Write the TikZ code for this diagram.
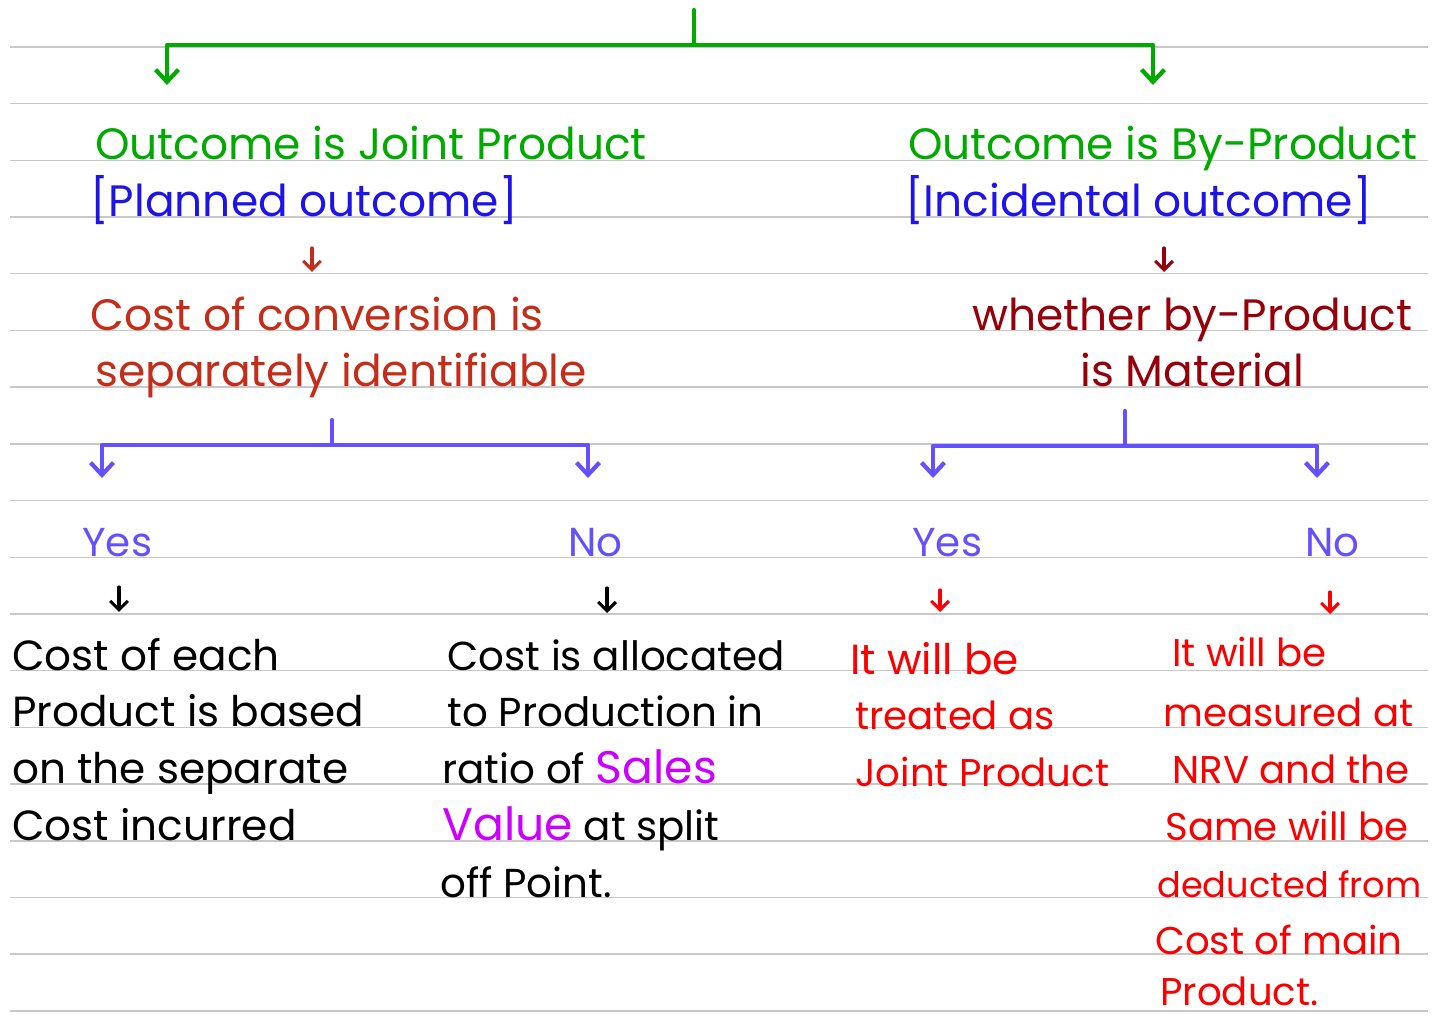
\documentclass[tikz,border=0pt]{standalone}
\usepackage{fontspec}
\setmainfont{Poppins}
\usepackage{xcolor}
\usetikzlibrary{arrows.meta}
\definecolor{rule-color}{RGB}{200,200,200}
\definecolor{head-green}{RGB}{0,170,0}
\definecolor{note-blue}{RGB}{30,20,235}
\definecolor{conv-brown}{RGB}{195,45,25}
\definecolor{mat-maroon}{RGB}{150,0,10}
\definecolor{choice-blue}{RGB}{100,80,255}
\definecolor{sales-purple}{RGB}{205,0,255}
\definecolor{treat-red}{RGB}{250,0,0}
\tikzset{
    rule/.style = {draw=rule-color, line width=0.8pt},
    txt/.style = {anchor=base west, inner sep=0pt, font=\fontsize{22}{26}\selectfont},
    headtxt/.style = {txt, font=\fontsize{25}{30}\selectfont},
    sidetxt/.style = {txt, font=\fontsize{24}{28}\selectfont},
    midtxt/.style = {txt, font=\fontsize{23}{27}\selectfont},
    wire/.style = {line width=2.4pt, line cap=round, line join=round},
    bigtip/.style = {-{Straight Barb[length=7pt,width=13pt,line width=2.4pt]}},
    smalltip/.style = {line width=1.8pt, line cap=round, -{Straight Barb[length=5pt,width=10pt,line width=1.8pt]}},
}

\begin{document}
\begin{tikzpicture}[x=0.02cm,y=-0.02cm]
\useasboundingbox[fill=white] (0,0) rectangle (1438,1016);
\foreach \k in {0,...,17}
    \draw[rule] (10,{47+56.7*\k}) -- (1428,{47+56.7*\k});

% outcomes
\node[headtxt,head-green] (jp)     at (95,160)  {Outcome is Joint Product};
\node[headtxt,note-blue]  (jpnote) at (90,217)  {[Planned outcome]};
\node[headtxt,head-green] (bp)     at (908,160) {Outcome is By-Product};
\node[headtxt,note-blue]  (bpnote) at (905,217) {[Incidental outcome]};

\coordinate (top)  at (694,10);
\coordinate (topj) at (694,45);
\coordinate (jpin) at (167,85);
\coordinate (bpin) at (1153,85);
\draw[wire,head-green] (top) -- (topj);
\draw[wire,head-green,bigtip] (topj) -| (jpin);
\draw[wire,head-green,bigtip] (topj) -| (bpin);

% questions
\node[headtxt,conv-brown] (conv1) at (90,331)   {Cost of conversion is};
\node[headtxt,conv-brown] (conv2) at (95,387)   {separately identifiable};
\node[headtxt,mat-maroon] (mat1)  at (972,331)  {whether by-Product};
\node[headtxt,mat-maroon] (mat2)  at (1080,387) {is Material};

\coordinate (jpa) at (312,248);
\coordinate (jpb) at (312,272);
\draw[smalltip,conv-brown] (jpa) -- (jpb);
\coordinate (bpa) at (1164,248);
\coordinate (bpb) at (1164,272);
\draw[smalltip,mat-maroon] (bpa) -- (bpb);

% yes / no
\node[midtxt,choice-blue] (lyes) at (82,557)   {Yes};
\node[midtxt,choice-blue] (lno)  at (568,557)  {No};
\node[midtxt,choice-blue] (ryes) at (912,557)  {Yes};
\node[midtxt,choice-blue] (rno)  at (1305,557) {No};

\coordinate (lstem)  at (332,420);
\coordinate (ljoin)  at (332,445);
\coordinate (lyesin) at (102,478);
\coordinate (lnoin)  at (588,478);
\draw[wire,choice-blue] (lstem) -- (ljoin);
\draw[wire,choice-blue,bigtip] (ljoin) -| (lyesin);
\draw[wire,choice-blue,bigtip] (ljoin) -| (lnoin);

\coordinate (rstem)  at (1125,411);
\coordinate (rjoin)  at (1125,446);
\coordinate (ryesin) at (933,478);
\coordinate (rnoin)  at (1317,478);
\draw[wire,choice-blue] (rstem) -- (rjoin);
\draw[wire,choice-blue,bigtip] (rjoin) -| (ryesin);
\draw[wire,choice-blue,bigtip] (rjoin) -| (rnoin);

% small arrows to results
\coordinate (la) at (119,587);  \coordinate (lb) at (119,612);
\coordinate (ma) at (607,588);  \coordinate (mb) at (607,613);
\coordinate (ra) at (940,590);  \coordinate (rb) at (940,612);
\coordinate (sa) at (1330,592); \coordinate (sb) at (1330,614);
\draw[smalltip,black] (la) -- (lb);
\draw[smalltip,black] (ma) -- (mb);
\draw[smalltip,treat-red] (ra) -- (rb);
\draw[smalltip,treat-red] (sa) -- (sb);

% results
\node[sidetxt] (sep1) at (12,671) {Cost of each};
\node[sidetxt] (sep2) at (12,727) {Product is based};
\node[sidetxt] (sep3) at (12,784) {on the separate};
\node[sidetxt] (sep4) at (12,841) {Cost incurred};

\node[midtxt] (alc1) at (447,671) {Cost is allocated};
\node[midtxt] (alc2) at (447,727) {to Production in};
\node[midtxt] (alc3) at (442,784) {ratio of {\color{sales-purple}\fontsize{26}{30}\selectfont Sales}};
\node[midtxt] (alc4) at (442,841) {{\color{sales-purple}\fontsize{26}{30}\selectfont Value} at split};
\node[midtxt] (alc5) at (440,897) {off Point.};

\node[sidetxt,treat-red] (jnt1) at (850,675) {It will be};
\node[txt,treat-red] (jnt2) at (855,730) {treated as};
\node[txt,treat-red] (jnt3) at (855,787) {Joint Product};

\node[txt,treat-red] (nrv1) at (1172,667)  {It will be};
\node[txt,treat-red] (nrv2) at (1163,727)  {measured at};
\node[txt,treat-red] (nrv3) at (1172,784)  {NRV and the};
\node[txt,treat-red] (nrv4) at (1165,841)  {Same will be};
\node[txt,treat-red,font=\fontsize{20}{24}\selectfont] (nrv5) at (1157,897) {deducted from};
\node[txt,treat-red] (nrv6) at (1155,954)  {Cost of main};
\node[txt,treat-red] (nrv7) at (1160,1005) {Product.};
\end{tikzpicture}
\end{document}
